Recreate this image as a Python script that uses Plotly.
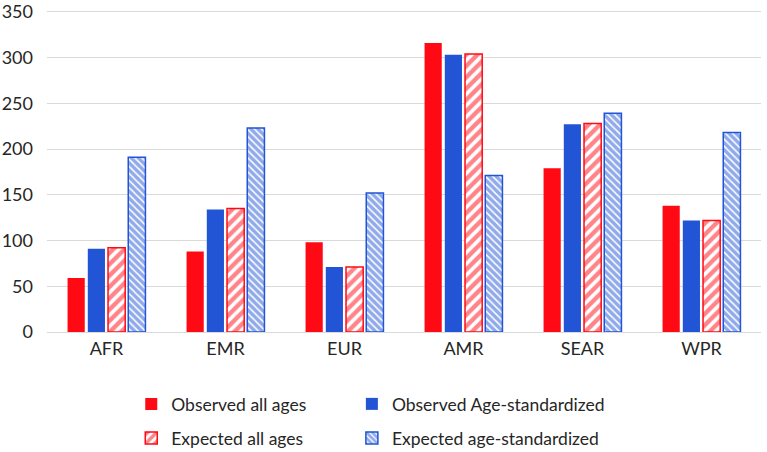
import plotly.graph_objects as go

regions = ["AFR", "EMR", "EUR", "AMR", "SEAR", "WPR"]
observed_all = [59, 88, 98, 316, 179, 138]
observed_std = [91, 134, 71, 303, 227, 122]
expected_all = [92, 135, 71, 304, 228, 122]
expected_std = [191, 223, 152, 171, 239, 218]
y_ticks = [0, 50, 100, 150, 200, 250, 300, 350]

RED = "#FF0A14"
BLUE = "#2155D6"
FONT = "Lato"

W, H = 767, 452

fig = go.Figure()
fig.add_trace(go.Bar(x=regions, y=observed_all, name="Observed all ages",
                     marker=dict(color=RED, line=dict(width=0)), legend="legend2"))
fig.add_trace(go.Bar(x=regions, y=observed_std, name="Observed Age-standardized",
                     marker=dict(color=BLUE, line=dict(width=0)), legend="legend3"))
fig.add_trace(go.Bar(x=regions, y=expected_all, name="Expected all ages",
                     marker=dict(color="white", line=dict(color=RED, width=1.5),
                                 pattern=dict(shape="/", fgcolor=RED, bgcolor="white",
                                              size=8, solidity=0.55)),
                     legend="legend4"))
fig.add_trace(go.Bar(x=regions, y=expected_std, name="Expected age-standardized",
                     marker=dict(color="white", line=dict(color=BLUE, width=1.5),
                                 pattern=dict(shape="\\", fgcolor=BLUE, bgcolor="white",
                                              size=5, solidity=0.7)),
                     legend="legend5"))

leg_common = dict(orientation="h", xanchor="left", yref="container",
                  yanchor="middle", font=dict(size=17.5, color="#262626"),
                  bgcolor="rgba(0,0,0,0)")
x1 = 0.118
x2 = 0.427
y1 = 1 - 404 / H
y2 = 1 - 438 / H

fig.update_layout(
    width=W, height=H,
    margin=dict(l=47, r=6, t=10, b=120, autoexpand=False),
    plot_bgcolor="white", paper_bgcolor="white",
    showlegend=True,
    barmode="group", bargap=0.32, bargroupgap=0.15,
    font=dict(family=FONT, size=18, color="#404040"),
    yaxis=dict(range=[0, 352], tickvals=y_ticks, showgrid=True, gridcolor="#D9D9D9",
               gridwidth=1, zeroline=False, showline=False, ticks="",
               ticklabeloverflow="allow", ticklabelstandoff=13,
               tickfont=dict(size=18, color="#262626")),
    xaxis=dict(showline=True, linecolor="#D9D9D9", linewidth=1, ticks="",
               tickfont=dict(size=18, color="#262626")),
    legend2=dict(x=x1, y=y1, **leg_common),
    legend3=dict(x=x2, y=y1, **leg_common),
    legend4=dict(x=x1, y=y2, **leg_common),
    legend5=dict(x=x2, y=y2, **leg_common),
)

fig.write_html("out.html", config={"displayModeBar": False},
               post_script="document.body.style.margin='0';document.body.style.padding='0';")
